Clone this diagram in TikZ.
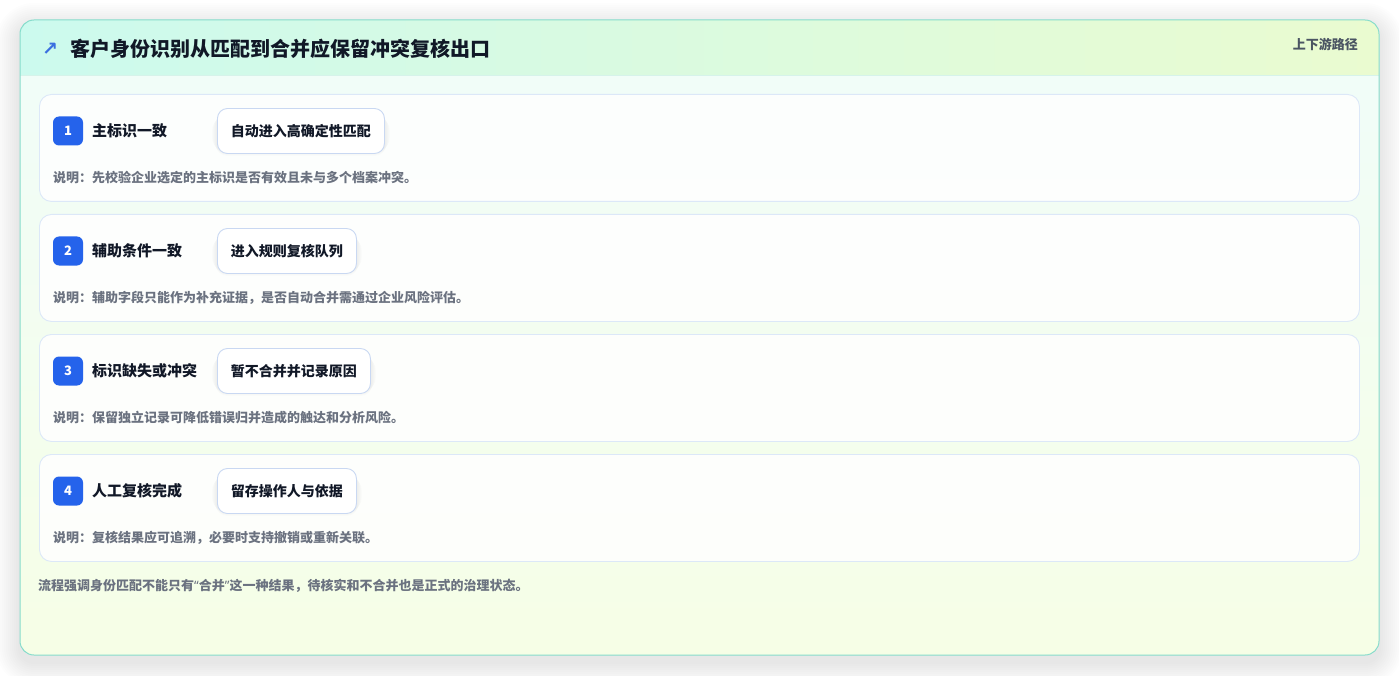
\documentclass[tikz,border=0pt]{standalone}
\usepackage{fontspec}
\setmainfont{Noto Sans CJK SC}
\newfontfamily\symfont{DejaVu Sans}
\newfontfamily\latinfont{Noto Sans}
\definecolor{frameborder}{HTML}{86DCCB}
\definecolor{headL}{HTML}{CCFAEE}
\definecolor{headR}{HTML}{EAFBD0}
\definecolor{headline}{HTML}{D6F3EA}
\definecolor{bodyT}{HTML}{F0FDFA}
\definecolor{bodyB}{HTML}{F6FEE6}
\definecolor{cardborder}{HTML}{DCE8F8}
\definecolor{pillborder}{HTML}{C9D8F2}
\definecolor{badgeblue}{HTML}{2563EB}
\definecolor{inkdark}{HTML}{111827}
\definecolor{inkgrey}{HTML}{6B7280}
\definecolor{cornergrey}{HTML}{4B5563}
\definecolor{iconblue}{HTML}{3B6FE0}
\definecolor{shadowc}{HTML}{1E293B}
\pgfdeclarelayer{cardlayer}
\pgfdeclarelayer{shadowlayer}
\pgfsetlayers{cardlayer,shadowlayer,main}
\tikzset{
  cardbox/.style={draw=cardborder, line width=0.9pt, fill=white, fill opacity=0.85, text opacity=1,
    rounded corners=12pt, minimum width=1320pt, minimum height=107pt, anchor=north west, inner sep=0pt},
  badge/.style={fill=badgeblue, rounded corners=6pt, minimum width=30pt, minimum height=29pt,
    inner sep=0pt, text=white, font=\fontsize{13}{13}\selectfont\bfseries},
  steplabel/.style={anchor=west, inner sep=0pt, text=inkdark, font=\fontsize{15}{15}\selectfont\bfseries},
  pill/.style={anchor=west, draw=pillborder, line width=0.9pt, fill=white, rounded corners=10pt,
    minimum height=45pt, inner xsep=13.5pt, inner ysep=0pt, text=inkdark,
    font=\fontsize{14}{14}\selectfont\bfseries},
  desc/.style={anchor=west, inner sep=0pt, text=inkgrey, font=\fontsize{13}{13}\selectfont\bfseries},
}
% soft shadow under a named node
\newcommand{\softshadow}[2]{%
  \foreach \k in {1,...,5}{%
    \fill[shadowc, opacity=0.012, rounded corners={10pt+\k pt}]
      ([xshift=-\k pt, yshift=-\k pt+#2]#1.north west) rectangle ([xshift=\k pt, yshift=\k pt+#2]#1.south east);
  }}
\begin{document}
\begin{tikzpicture}[x=1pt,y=-1pt]
\useasboundingbox (0,0) rectangle (1399,676);
\begin{pgfonlayer}{cardlayer}
\fill[white] (0,0) rectangle (1399,676);
% outer frame
\coordinate (fnw) at (20,20);
\coordinate (fse) at (1379,655);
\foreach \k in {2,4,...,24}{
  \fill[shadowc, opacity=0.006, rounded corners={14pt+\k pt}]
    ([xshift=-\k pt, yshift=\k pt-7pt]fnw) rectangle ([xshift=\k pt, yshift=-\k pt-7pt]fse);
}
\begin{scope}
  \clip[rounded corners=14pt] (fnw) rectangle (fse);
  \shade[top color=bodyT, bottom color=bodyB] (fnw) rectangle (fse);
  \shade[left color=headL, right color=headR] (20,20) rectangle (1379,75);
  \draw[headline, line width=0.9pt] (20,75) -- (1379,75);
\end{scope}
\draw[frameborder, line width=1pt, rounded corners=14pt] (fnw) rectangle (fse);
% cards
\node[cardbox] (c1) at (39,94) {};
\node[cardbox] (c2) at (39,214) {};
\node[cardbox] (c3) at (39,334) {};
\node[cardbox] (c4) at (39,454) {};
\end{pgfonlayer}

% header
\node[anchor=center, inner sep=0pt, text=iconblue, font=\symfont\fontsize{19}{19}\selectfont\bfseries] (icon) at (50,49) {↗};
\node[anchor=west, inner sep=0pt, text=inkdark, font=\fontsize{20}{20}\selectfont\bfseries] (title) at (70,49) {客户身份识别从匹配到合并应保留冲突复核出口};
\node[anchor=east, inner sep=0pt, text=cornergrey, font=\fontsize{13}{13}\selectfont\bfseries] (corner) at (1358,44) {上下游路径};

\node[badge] (b1) at (68,131) {1};
\node[steplabel] (l1) at (92,131) {主标识一致};
\node[pill] (p1) at (217,131) {自动进入高确定性匹配};
\node[desc] (d1) at (53,178) {说明：先校验企业选定的主标识是否有效且未与多个档案冲突。};

\node[badge] (b2) at (68,251) {2};
\node[steplabel] (l2) at (92,251) {辅助条件一致};
\node[pill] (p2) at (217,251) {进入规则复核队列};
\node[desc] (d2) at (53,298) {说明：辅助字段只能作为补充证据，是否自动合并需通过企业风险评估。};

\node[badge] (b3) at (68,371) {3};
\node[steplabel] (l3) at (92,371) {标识缺失或冲突};
\node[pill] (p3) at (217,371) {暂不合并并记录原因};
\node[desc] (d3) at (53,418) {说明：保留独立记录可降低错误归并造成的触达和分析风险。};

\node[badge] (b4) at (68,491) {4};
\node[steplabel] (l4) at (92,491) {人工复核完成};
\node[pill] (p4) at (217,491) {留存操作人与依据};
\node[desc] (d4) at (53,538) {说明：复核结果应可追溯，必要时支持撤销或重新关联。};

\begin{pgfonlayer}{shadowlayer}
  \softshadow{p1}{-3pt}
  \softshadow{p2}{-3pt}
  \softshadow{p3}{-3pt}
  \softshadow{p4}{-3pt}
\end{pgfonlayer}

\node[desc] (foot) at (38,586) {流程强调身份匹配不能只有{\latinfont “}合并{\latinfont ”}这一种结果，待核实和不合并也是正式的治理状态。};
\end{tikzpicture}
\end{document}
